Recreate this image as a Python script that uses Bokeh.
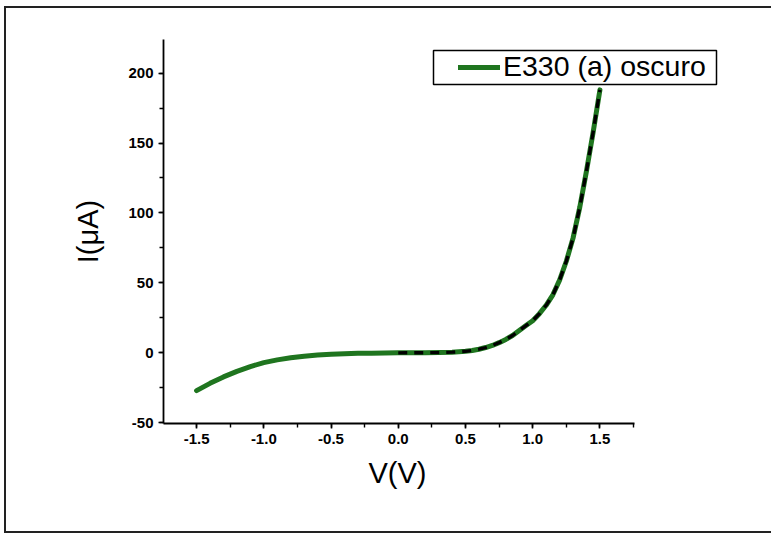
from bokeh.plotting import figure
from bokeh.models import (SingleIntervalTicker, NumeralTickFormatter, Legend,
                          LegendItem, BoxAnnotation, Range1d, Title)
from bokeh.embed import file_html
from bokeh.resources import INLINE

# Measured I-V curve (V in volts, I in microamps)
voltage = [-1.5, -1.4, -1.3, -1.2, -1.1, -1.0, -0.9, -0.8, -0.7, -0.6, -0.5,
           -0.4, -0.3, -0.2, -0.1, 0.0, 0.1, 0.2, 0.3, 0.4, 0.5, 0.55, 0.6,
           0.65, 0.7, 0.75, 0.8, 0.85, 0.9, 0.95, 1.0, 1.05, 1.1, 1.15, 1.2,
           1.25, 1.3, 1.35, 1.4, 1.45, 1.5]
current = [-27.0, -21.8, -17.2, -13.2, -9.8, -7.0, -5.0, -3.5, -2.4, -1.6, -1.0,
           -0.6, -0.35, -0.2, -0.1, 0.0, 0.05, 0.1, 0.2, 0.5, 1.1, 1.7, 2.6,
           3.8, 5.3, 7.3, 9.6, 12.4, 16.0, 19.5, 23.0, 28.0, 34.0, 41.5, 52.0,
           65.5, 82.0, 104.0, 130.0, 158.0, 188.0]

# Fit (dashed black) over forward bias
fit_voltage = [0.0, 0.1, 0.2, 0.3, 0.4, 0.5, 0.55, 0.6, 0.65, 0.7, 0.75, 0.8,
               0.85, 0.9, 0.95, 1.0, 1.05, 1.1, 1.15, 1.2, 1.25, 1.3, 1.35,
               1.4, 1.45, 1.5]
fit_current = [0.0, 0.05, 0.1, 0.2, 0.5, 1.1, 1.7, 2.6, 3.8, 5.3, 7.3, 9.6,
               12.4, 16.0, 19.5, 23.0, 28.0, 34.0, 41.5, 52.0, 65.5, 82.0,
               104.0, 130.0, 158.0, 188.0]

legend_label = "E330 (a) oscuro"
x_label = "V(V)"
y_label = "I(\u03bcA)"

# axis extents (the drawn axes stop at these values)
x_axis_start, x_axis_end = -1.746, 1.754
y_axis_start, y_axis_end = -50.5, 224.0

FONT = "Liberation Sans"

p = figure(width=767, height=527, output_backend="svg", toolbar_location=None,
           x_range=Range1d(x_axis_start, 2.791),
           y_range=Range1d(y_axis_start, y_axis_end),
           min_border_left=157, min_border_right=0, min_border_top=31,
           min_border_bottom=112,
           styles={"margin-left": "4px", "margin-top": "6px",
                   "border-left": "2px solid #222222",
                   "border-top": "2px solid #222222",
                   "border-bottom": "2px solid #222222"})
p.outline_line_color = None
p.grid.visible = False
p.background_fill_color = "white"
p.border_fill_color = "white"

green = p.line(voltage, current, line_color="#1f751f", line_width=5,
               line_cap="round", line_join="round")
p.line(fit_voltage, fit_current, line_color="black", line_width=3.4,
       line_dash="9 7")

for ax in (p.xaxis[0], p.yaxis[0]):
    ax.axis_line_width = 1.8
    ax.axis_line_color = "black"
    ax.major_tick_line_width = 1.6
    ax.minor_tick_line_width = 1.4
    ax.major_tick_in = 0
    ax.major_tick_out = 5
    ax.minor_tick_in = 0
    ax.minor_tick_out = 4
    ax.major_label_text_font = FONT
    ax.major_label_text_font_size = "15px"
    ax.major_label_text_font_style = "bold"
    ax.major_label_text_color = "black"
    ax.major_label_standoff = 5
    ax.axis_label_text_font = FONT
    ax.axis_label_text_font_size = "29px"
    ax.axis_label_text_font_style = "normal"
    ax.axis_label_text_color = "black"

p.xaxis.bounds = (x_axis_start, x_axis_end)
p.yaxis.bounds = (y_axis_start, y_axis_end)
p.xaxis.ticker = SingleIntervalTicker(interval=0.5, num_minor_ticks=2)
p.yaxis.ticker = SingleIntervalTicker(interval=50, num_minor_ticks=2)
p.xaxis.formatter = NumeralTickFormatter(format="0.0")
p.yaxis.formatter = NumeralTickFormatter(format="0")
p.yaxis.axis_label = y_label
p.yaxis.axis_label_standoff = 21

# x-axis label, centred under the drawn axis (not the whole frame)
p.add_layout(Title(text=x_label, align="left", offset=205, standoff=16,
                   text_font=FONT, text_font_size="29px",
                   text_font_style="normal", text_color="black"), "below")

# Legend (box drawn separately)
legend = Legend(items=[LegendItem(label=legend_label, renderers=[green])],
                location=(295, 340), padding=0, margin=0, spacing=0,
                border_line_color=None, background_fill_alpha=0,
                glyph_width=42, glyph_height=20, label_standoff=3,
                label_text_font=FONT, label_text_font_size="28.5px",
                label_text_color="black")
p.add_layout(legend)

legend_box = BoxAnnotation(left=270, right=553, bottom=339, top=373,
                           left_units="screen", right_units="screen",
                           bottom_units="screen", top_units="screen",
                           fill_alpha=0, line_color="black", line_width=1.5,
                           line_alpha=1)
p.add_layout(legend_box)

open("out.html", "w").write(file_html(p, INLINE))
